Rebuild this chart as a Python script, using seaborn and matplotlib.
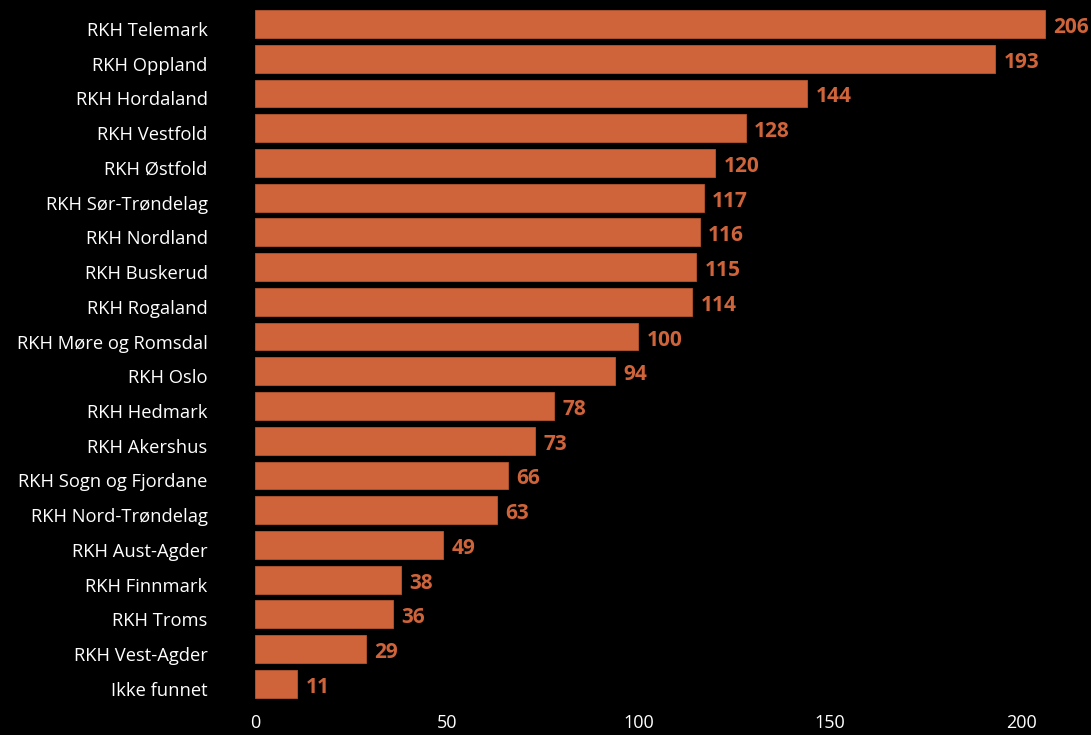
import matplotlib
matplotlib.use("Agg")
import matplotlib.pyplot as plt
import matplotlib.transforms as mtransforms
import seaborn as sns
import pandas as pd

categories = ["RKH Telemark", "RKH Oppland", "RKH Hordaland", "RKH Vestfold", "RKH Østfold",
              "RKH Sør-Trøndelag", "RKH Nordland", "RKH Buskerud", "RKH Rogaland",
              "RKH Møre og Romsdal", "RKH Oslo", "RKH Hedmark", "RKH Akershus",
              "RKH Sogn og Fjordane", "RKH Nord-Trøndelag", "RKH Aust-Agder",
              "RKH Finnmark", "RKH Troms", "RKH Vest-Agder", "Ikke funnet"]
values = [206, 193, 144, 128, 120, 117, 116, 115, 114, 100, 94, 78, 73, 66, 63, 49, 38, 36, 29, 11]
xticks = [0, 50, 100, 150, 200]

df = pd.DataFrame({"cat": categories, "val": values})

sns.set_theme(style="dark")
plt.rcParams['font.family'] = ['Open Sans', 'DejaVu Sans']

BAR = "#CF643A"
fig = plt.figure(figsize=(10.91, 7.35), dpi=100, facecolor="black")
ax = fig.add_axes([0.2337, 0.046, 0.7663, 0.945])
ax.set_facecolor("black")
sns.barplot(data=df, y="cat", x="val", color=BAR, orient="h", width=0.8,
            edgecolor="#B5552F", linewidth=0.6, saturation=1, ax=ax)
for c in ax.containers:
    texts = ax.bar_label(c, labels=[str(v) for v in values], padding=6, color=BAR,
                         fontsize=15, fontweight="bold")
    for t in texts:
        t.xyann = (6, -2.5)
ax.set_xlim(0, 218)
ax.set_ylim(19.5, -0.5)
ax.set_xticks(xticks)
ax.set_xticklabels([str(t) for t in xticks])
ax.set_xlabel("")
ax.set_ylabel("")
ax.tick_params(axis="x", colors="white", labelsize=13, length=0, pad=9)
ax.tick_params(axis="y", colors="white", labelsize=13.2, length=0, pad=34)
offset = mtransforms.ScaledTranslation(0, -5 / 100, fig.dpi_scale_trans)
for lbl in ax.get_yticklabels():
    lbl.set_transform(lbl.get_transform() + offset)
for s in ax.spines.values():
    s.set_visible(False)
ax.grid(False)
fig.savefig("out.png", dpi=100, facecolor="black")
